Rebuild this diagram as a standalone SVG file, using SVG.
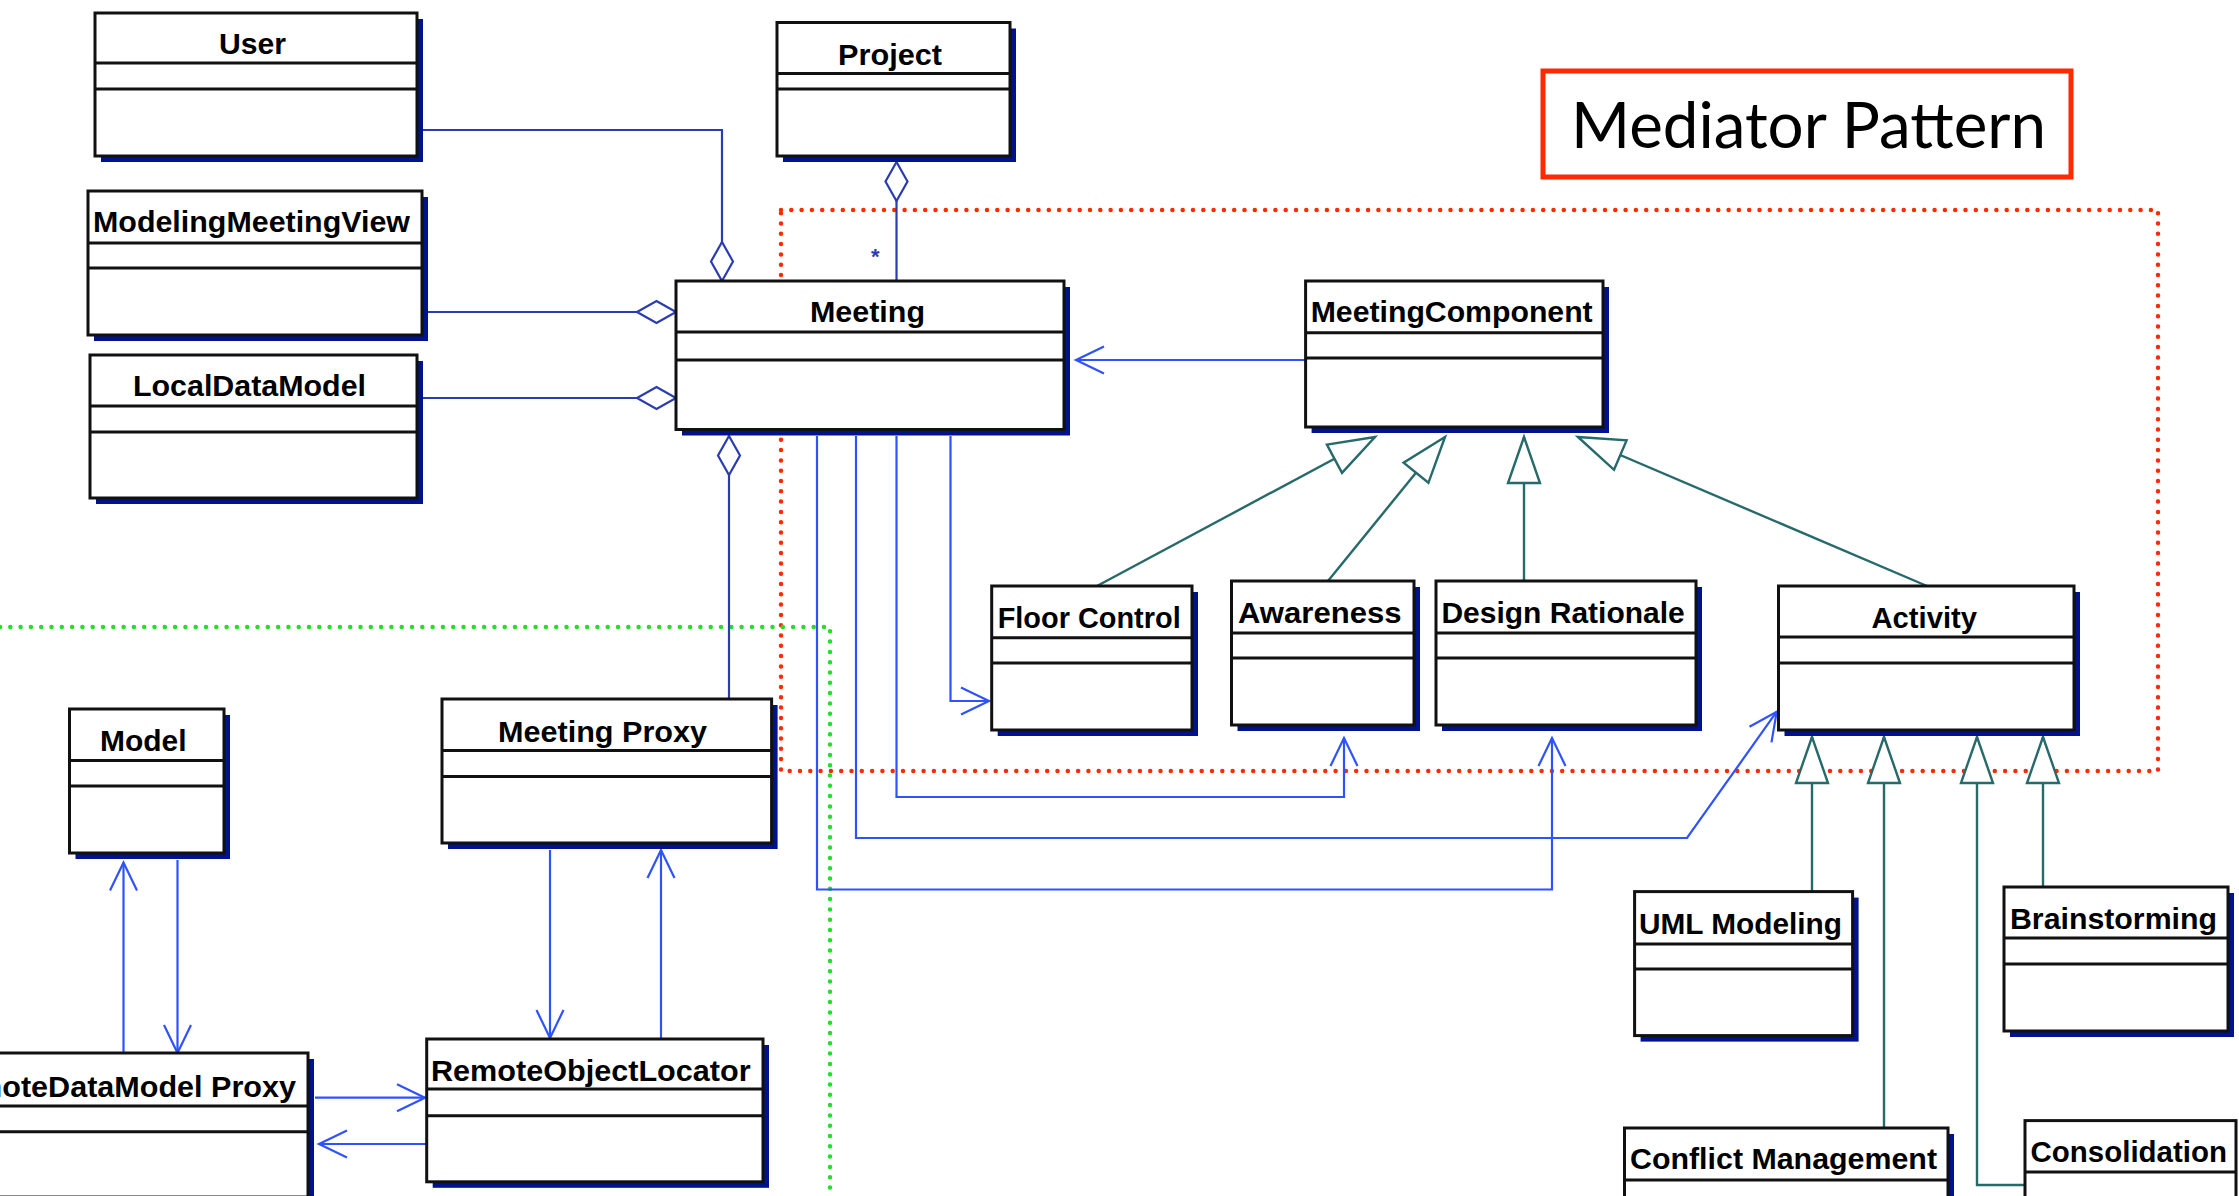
<svg xmlns="http://www.w3.org/2000/svg" width="2239" height="1196" viewBox="0 0 2239 1196">
<style>
.shadow{fill:#00128c}
.box{fill:#fff;stroke:#111;stroke-width:3}
.div{stroke:#111;stroke-width:3}
.name{font-family:"Liberation Sans",Arial,sans-serif;font-weight:bold;font-size:29px;fill:#000}
.agg{fill:none;stroke:#2a3cb0;stroke-width:2.2}
.assoc{fill:none;stroke:#2f52ff;stroke-width:2.2}
.gen{fill:none;stroke:#276a6a;stroke-width:2.4}
.reddot{fill:none;stroke:#ff2a00;stroke-width:4.5;stroke-linecap:round;stroke-dasharray:0 10.3}
.greendot{fill:none;stroke:#22e022;stroke-width:4.5;stroke-linecap:round;stroke-dasharray:0 10.3}
</style>
<defs>
<marker id="diamond" markerUnits="userSpaceOnUse" orient="auto" refX="0" refY="0" overflow="visible">
<path d="M0 0 L-19.5 -11 L-39 0 L-19.5 11 Z" fill="#fff" stroke="#2a3cb0" stroke-width="2.2"/>
</marker>
<marker id="open" markerUnits="userSpaceOnUse" orient="auto" refX="0" refY="0" overflow="visible">
<path d="M-28 -13.5 L0 0 L-28 13.5" fill="none" stroke="#2f52ff" stroke-width="2.2"/>
</marker>
<marker id="tri" markerUnits="userSpaceOnUse" orient="auto" refX="0" refY="0" overflow="visible">
<path d="M0 0 L-46 -16 L-46 16 Z" fill="#fff" stroke="#276a6a" stroke-width="2.4"/>
</marker>
</defs>
<rect width="2239" height="1196" fill="#fff"/>

<!-- grouping frames -->
<rect x="781" y="210" width="1377" height="561" class="reddot"/>
<path d="M0 627 L830 627 L830 1196" class="greendot"/>

<g id="connectors">
<path d="M417 130 L722 130 L722 281" class="agg" marker-end="url(#diamond)"/>
<path d="M896.5 281 L896.5 162" class="agg" marker-end="url(#diamond)"/>
<text x="871" y="264" font-family="Liberation Sans,Arial,sans-serif" font-size="22" font-weight="bold" fill="#2a3cb0">*</text>
<path d="M422 312 L676 312" class="agg" marker-end="url(#diamond)"/>
<path d="M417 398 L676 398" class="agg" marker-end="url(#diamond)"/>
<path d="M729 699 L729 436" class="agg" marker-end="url(#diamond)"/>
<path d="M1305 360 L1076 360" class="assoc" marker-end="url(#open)"/>
<path d="M950.5 436 L950.5 701 L989 701" class="assoc" marker-end="url(#open)"/>
<path d="M896.5 436 L896.5 797 L1344 797 L1344 738" class="assoc" marker-end="url(#open)"/>
<path d="M856 436 L856 838 L1687 838 L1776.7 711.7" class="assoc" marker-end="url(#open)"/>
<path d="M817 436 L817 889.5 L1552 889.5 L1552 738" class="assoc" marker-end="url(#open)"/>
<path d="M1097 586 L1375 437" class="gen" marker-end="url(#tri)"/>
<path d="M1328 581 L1445 437" class="gen" marker-end="url(#tri)"/>
<path d="M1524 581 L1524 437" class="gen" marker-end="url(#tri)"/>
<path d="M1927 586 L1578 437" class="gen" marker-end="url(#tri)"/>
<path d="M1812 891.6 L1812 737" class="gen" marker-end="url(#tri)"/>
<path d="M1884 1128 L1884 737" class="gen" marker-end="url(#tri)"/>
<path d="M2025 1185 L1977 1185 L1977 737" class="gen" marker-end="url(#tri)"/>
<path d="M2043 887 L2043 737" class="gen" marker-end="url(#tri)"/>
<path d="M123.5 1053 L123.5 862.5" class="assoc" marker-end="url(#open)"/>
<path d="M177.5 860 L177.5 1053" class="assoc" marker-end="url(#open)"/>
<path d="M550 850 L550 1038" class="assoc" marker-end="url(#open)"/>
<path d="M661 1038 L661 850" class="assoc" marker-end="url(#open)"/>
<path d="M315 1097.7 L425 1097.7" class="assoc" marker-end="url(#open)"/>
<path d="M426 1144 L319 1144" class="assoc" marker-end="url(#open)"/>
</g>

<g id="user">
<rect x="101" y="19" width="322" height="143" class="shadow"/>
<rect x="95" y="13" width="322" height="143" class="box"/>
<path d="M95 63 H417 M95 89 H417" class="div"/>
<text x="219" y="54" class="name" textLength="67" lengthAdjust="spacingAndGlyphs">User</text>
</g>
<g id="project">
<rect x="783" y="28.5" width="233" height="133.5" class="shadow"/>
<rect x="777" y="22.5" width="233" height="133.5" class="box"/>
<path d="M777 73.6 H1010 M777 89 H1010" class="div"/>
<text x="838" y="64.7" class="name" textLength="104" lengthAdjust="spacingAndGlyphs">Project</text>
</g>
<g id="modelingmeetingview">
<rect x="94" y="197" width="334" height="144" class="shadow"/>
<rect x="88" y="191" width="334" height="144" class="box"/>
<path d="M88 243 H422 M88 268 H422" class="div"/>
<text x="93" y="232" class="name" textLength="317" lengthAdjust="spacingAndGlyphs">ModelingMeetingView</text>
</g>
<g id="localdatamodel">
<rect x="96" y="361" width="327" height="143" class="shadow"/>
<rect x="90" y="355" width="327" height="143" class="box"/>
<path d="M90 406 H417 M90 432 H417" class="div"/>
<text x="133" y="396" class="name" textLength="233" lengthAdjust="spacingAndGlyphs">LocalDataModel</text>
</g>
<g id="meeting">
<rect x="682" y="287" width="388" height="148.5" class="shadow"/>
<rect x="676" y="281" width="388" height="148.5" class="box"/>
<path d="M676 332 H1064 M676 360 H1064" class="div"/>
<text x="810" y="322" class="name" textLength="115" lengthAdjust="spacingAndGlyphs">Meeting</text>
</g>
<g id="meetingcomponent">
<rect x="1311.6" y="287" width="297.4" height="146" class="shadow"/>
<rect x="1305.6" y="281" width="297.4" height="146" class="box"/>
<path d="M1305.6 332.7 H1603 M1305.6 358 H1603" class="div"/>
<text x="1310.7" y="322" class="name" textLength="282" lengthAdjust="spacingAndGlyphs">MeetingComponent</text>
</g>
<g id="floorcontrol">
<rect x="997.7" y="592" width="200.3" height="144" class="shadow"/>
<rect x="991.7" y="586" width="200.3" height="144" class="box"/>
<path d="M991.7 637.7 H1192 M991.7 663 H1192" class="div"/>
<text x="997.7" y="628" class="name" textLength="183" lengthAdjust="spacingAndGlyphs">Floor Control</text>
</g>
<g id="awareness">
<rect x="1237.5" y="587" width="182.5" height="144" class="shadow"/>
<rect x="1231.5" y="581" width="182.5" height="144" class="box"/>
<path d="M1231.5 633 H1414 M1231.5 658 H1414" class="div"/>
<text x="1238" y="622.6" class="name" textLength="163.5" lengthAdjust="spacingAndGlyphs">Awareness</text>
</g>
<g id="designrationale">
<rect x="1442" y="587" width="260" height="144" class="shadow"/>
<rect x="1436" y="581" width="260" height="144" class="box"/>
<path d="M1436 633 H1696 M1436 658 H1696" class="div"/>
<text x="1441.4" y="622.6" class="name" textLength="243.4" lengthAdjust="spacingAndGlyphs">Design Rationale</text>
</g>
<g id="activity">
<rect x="1784.5" y="592" width="295.5" height="144" class="shadow"/>
<rect x="1778.5" y="586" width="295.5" height="144" class="box"/>
<path d="M1778.5 637 H2074 M1778.5 663 H2074" class="div"/>
<text x="1871.5" y="628" class="name" textLength="105.5" lengthAdjust="spacingAndGlyphs">Activity</text>
</g>
<g id="umlmodeling">
<rect x="1640.6" y="897.6" width="218" height="144" class="shadow"/>
<rect x="1634.6" y="891.6" width="218" height="144" class="box"/>
<path d="M1634.6 944 H1852.6 M1634.6 969 H1852.6" class="div"/>
<text x="1639" y="934" class="name" textLength="203" lengthAdjust="spacingAndGlyphs">UML Modeling</text>
</g>
<g id="brainstorming">
<rect x="2010" y="893" width="224" height="144" class="shadow"/>
<rect x="2004" y="887" width="224" height="144" class="box"/>
<path d="M2004 938 H2228 M2004 964 H2228" class="div"/>
<text x="2010" y="929" class="name" textLength="207" lengthAdjust="spacingAndGlyphs">Brainstorming</text>
</g>
<g id="conflictmanagement">
<rect x="1630.5" y="1134" width="323.5" height="144" class="shadow"/>
<rect x="1624.5" y="1128" width="323.5" height="144" class="box"/>
<path d="M1624.5 1180 H1948" class="div"/>
<text x="1630" y="1169" class="name" textLength="307" lengthAdjust="spacingAndGlyphs">Conflict Management</text>
</g>
<g id="consolidation">
<rect x="2025" y="1120.6" width="211" height="144" class="box"/>
<path d="M2025 1172 H2236" class="div"/>
<text x="2030.6" y="1162" class="name" textLength="196.4" lengthAdjust="spacingAndGlyphs">Consolidation</text>
</g>
<g id="model">
<rect x="75.5" y="715" width="154.5" height="144" class="shadow"/>
<rect x="69.5" y="709" width="154.5" height="144" class="box"/>
<path d="M69.5 760.6 H224 M69.5 786 H224" class="div"/>
<text x="100" y="750.6" class="name" textLength="86.6" lengthAdjust="spacingAndGlyphs">Model</text>
</g>
<g id="meetingproxy">
<rect x="448" y="705" width="329.6" height="144" class="shadow"/>
<rect x="442" y="699" width="329.6" height="144" class="box"/>
<path d="M442 750.6 H771.6 M442 776.5 H771.6" class="div"/>
<text x="498" y="742" class="name" textLength="209" lengthAdjust="spacingAndGlyphs">Meeting Proxy</text>
</g>
<g id="remotedatamodelproxy">
<rect x="-4" y="1059" width="318" height="144" class="shadow"/>
<rect x="-10" y="1053" width="318" height="144" class="box"/>
<path d="M-10 1106 H308 M-10 1131.7 H308" class="div"/>
<text x="-64" y="1096.7" class="name" textLength="360" lengthAdjust="spacingAndGlyphs">RemoteDataModel Proxy</text>
</g>
<g id="remoteobjectlocator">
<rect x="432.7" y="1045" width="336.3" height="142.8" class="shadow"/>
<rect x="426.7" y="1039" width="336.3" height="142.8" class="box"/>
<path d="M426.7 1089 H763 M426.7 1115.7 H763" class="div"/>
<text x="431" y="1080.5" class="name" textLength="319.6" lengthAdjust="spacingAndGlyphs">RemoteObjectLocator</text>
</g>
<g id="mediatorpattern">
<rect x="1543" y="71" width="528" height="106" fill="#fff" stroke="#ff2a00" stroke-width="5"/>
<text x="1571" y="148" font-family="Lato,'Open Sans',sans-serif" font-size="64" fill="#000" textLength="475" lengthAdjust="spacingAndGlyphs">Mediator Pattern</text>
</g>
</svg>
